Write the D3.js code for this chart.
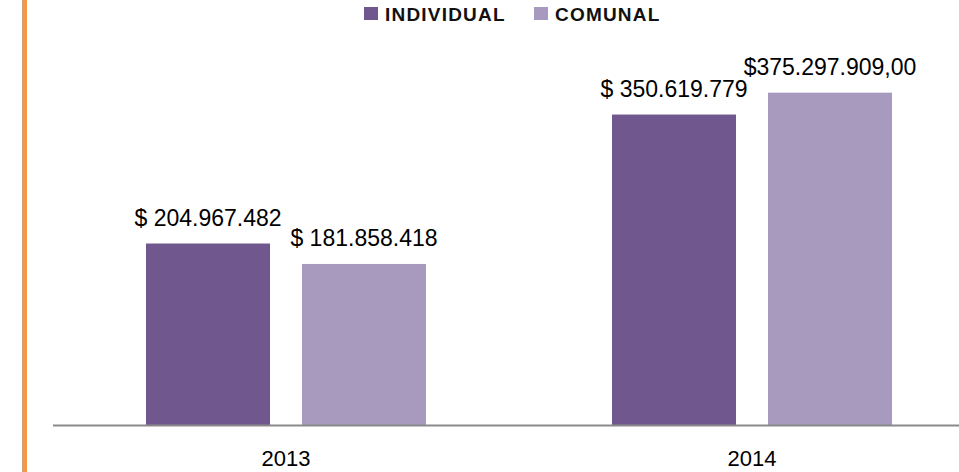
<!DOCTYPE html>
<html>
<head>
<meta charset="utf-8">
<script src="https://cdn.jsdelivr.net/npm/d3@7"></script>
<style>
  html, body { margin: 0; padding: 0; background: #fff; }
  svg { display: block; }
</style>
</head>
<body>
<svg id="chart" width="959" height="472"></svg>
<script>
const categories = ["2013", "2014"];
const seriesNames = ["INDIVIDUAL", "COMUNAL"];
const individualValues = [204967482, 350619779];
const comunalValues = [181858418, 375297909];
const individualLabels = ["$ 204.967.482", "$ 350.619.779"];
const comunalLabels = ["$ 181.858.418", "$375.297.909,00"];
const colors = ["#70588e", "#a899be"];

const W = 959, H = 472;
const svg = d3.select("#chart");
const font = "'Liberation Sans', Arial, sans-serif";

const rows = categories.map((c, i) => ({
  cat: c,
  vals: [
    { s: seriesNames[0], v: individualValues[i], label: individualLabels[i] },
    { s: seriesNames[1], v: comunalValues[i], label: comunalLabels[i] }
  ]
}));

// Scales
const x0 = d3.scaleBand().domain(categories).range([53, 985]).paddingInner(0).paddingOuter(0);
const x1 = d3.scaleBand().domain(seriesNames).range([93, 373]).paddingInner(0.205).paddingOuter(0);
const y = d3.scaleLinear().domain([0, 400000000]).range([425, 425 - 354.2]);
const color = d3.scaleOrdinal().domain(seriesNames).range(colors);

// Orange decorative left bar
svg.append("rect").attr("x", 22).attr("y", 0).attr("width", 1).attr("height", H).attr("fill", "#cfa27c");
svg.append("rect").attr("x", 23).attr("y", 0).attr("width", 4).attr("height", H).attr("fill", "#f79646");

// Bars
const groups = svg.selectAll("g.grp").data(rows).enter().append("g")
  .attr("class", "grp")
  .attr("transform", d => `translate(${x0(d.cat)},0)`);

groups.selectAll("rect").data(d => d.vals).enter().append("rect")
  .attr("x", d => x1(d.s))
  .attr("width", x1.bandwidth())
  .attr("y", d => y(d.v))
  .attr("height", d => y(0) - y(d.v))
  .attr("fill", d => color(d.s));

groups.selectAll("text.lbl").data(d => d.vals).enter().append("text")
  .attr("class", "lbl")
  .attr("x", d => x1(d.s) + x1.bandwidth() / 2)
  .attr("y", d => y(d.v) - 18)
  .attr("text-anchor", "middle")
  .attr("font-family", font)
  .attr("font-size", 23)
  .attr("fill", "#000")
  .text(d => d.label);

// X axis
const xAxis = d3.axisBottom(x0).tickSize(0).tickPadding(0);
const axG = svg.append("g").attr("transform", `translate(0,${y(0)})`).call(xAxis);
axG.select(".domain").attr("d", `M53,0.5H${W}`).attr("stroke", "#8a8a8a").attr("stroke-width", 2);
axG.selectAll(".tick text")
  .attr("y", 41)
  .attr("dy", 0)
  .attr("font-family", font)
  .attr("font-size", 22)
  .attr("fill", "#000");

// Legend
const legendX = [364, 534];
const leg = svg.selectAll("g.leg").data(seriesNames).enter().append("g")
  .attr("class", "leg")
  .attr("transform", (d, i) => `translate(${legendX[i]},7)`);
leg.append("rect").attr("width", 14).attr("height", 13).attr("fill", d => color(d));
leg.append("text")
  .attr("x", 21).attr("y", 13.5)
  .attr("font-family", font)
  .attr("font-size", 19)
  .attr("font-weight", "bold")
  .attr("letter-spacing", 1.2)
  .attr("fill", "#111")
  .text(d => d);
</script>
</body>
</html>
